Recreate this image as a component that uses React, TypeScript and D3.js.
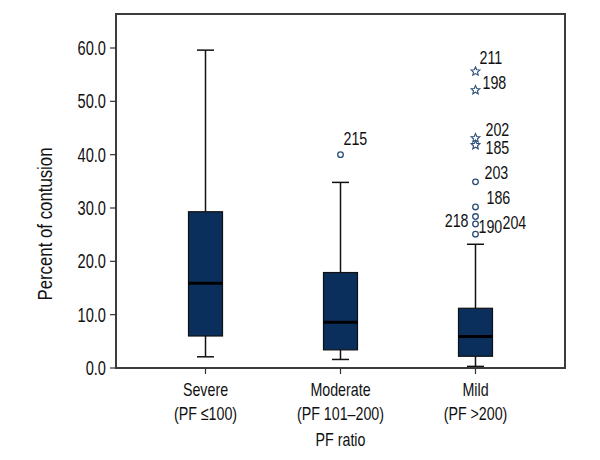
import React from "react";
import * as d3 from "d3";

const categories = ["Severe", "Moderate", "Mild"];
const categorySub = ["(PF \u2264100)", "(PF 101\u2013200)", "(PF >200)"];
const xAxisTitle = "PF ratio";
const yAxisTitle = "Percent of contusion";
const yTicks = [0, 10, 20, 30, 40, 50, 60];

const whiskerLow = [2.1, 1.6, 0.3];
const q1 = [6.0, 3.4, 2.2];
const median = [15.9, 8.6, 5.9];
const q3 = [29.3, 17.9, 11.2];
const whiskerHigh = [59.6, 34.8, 23.2];

// outliers
const outlierCat = [1, 2, 2, 2, 2, 2, 2, 2, 2, 2];
const outlierVal = [40.0, 55.6, 52.1, 43.1, 41.8, 34.9, 30.2, 28.4, 27.0, 25.1];
const outlierKind = ["o", "*", "*", "*", "*", "o", "o", "o", "o", "o"];
const outlierLabels = ["215", "211", "198", "202", "185", "203", "186", "218", "190", "204"];

// label placement offsets (px) relative to the point
const labelDx = [3, 4, 7, 10, 10, 9, 11, -7, 3, 27];
const labelDy = [-10, -7, -1, -2, 9, -3, -3, 10, 9, -5];
const labelAnchor = ["start", "start", "start", "start", "start", "start", "start", "end", "start", "start"];

const W = 600, H = 460;
const left = 116, right = 565, top = 14, bottom = 368;
const FONT = "'Liberation Sans', Arial, sans-serif";
const SX = 0.75;
const BOX_FILL = "#0a2f5c";
const PT_COLOR = "#2a4d78";

function starPath(cx: number, cy: number, R: number, r: number) {
  const pts: string[] = [];
  for (let i = 0; i < 10; i++) {
    const a = -Math.PI / 2 + (i * Math.PI) / 5;
    const rad = i % 2 === 0 ? R : r;
    pts.push(`${(cx + rad * Math.cos(a)).toFixed(2)},${(cy + rad * Math.sin(a)).toFixed(2)}`);
  }
  return "M" + pts.join("L") + "Z";
}

function T(props: { x: number; y: number; size: number; anchor?: string; rotate?: number; dy?: string; sx?: number; children: any }) {
  const { x, y, size, anchor = "start", rotate = 0, dy, sx = SX, children } = props;
  return (
    <text
      transform={`translate(${x},${y}) rotate(${rotate}) scale(${sx},1)`}
      textAnchor={anchor as any}
      fontSize={size}
      dy={dy}
      fill="#111"
      fontFamily={FONT}
    >
      {children}
    </text>
  );
}

export default function App() {
  const y = d3.scaleLinear().domain([0, 60]).range([bottom, 48]);
  const x = d3.scalePoint<string>().domain(categories).range([left, right]).padding(0.663);
  const boxW = 34;
  const capW = 17;

  return (
    <svg width={W} height={H} style={{ position: "absolute", left: 0, top: 0, background: "#fff" }}>
      {categories.map((c, i) => {
        const cx = x(c)!;
        return (
          <g key={c}>
            <line x1={cx} x2={cx} y1={y(whiskerHigh[i])} y2={y(q3[i])} stroke="#111" strokeWidth={1.5} />
            <line x1={cx} x2={cx} y1={y(q1[i])} y2={y(whiskerLow[i])} stroke="#111" strokeWidth={1.5} />
            <line x1={cx - capW / 2} x2={cx + capW / 2} y1={y(whiskerHigh[i])} y2={y(whiskerHigh[i])} stroke="#111" strokeWidth={1.5} />
            <line x1={cx - capW / 2} x2={cx + capW / 2} y1={y(whiskerLow[i])} y2={y(whiskerLow[i])} stroke="#111" strokeWidth={1.5} />
            <rect x={cx - boxW / 2} y={y(q3[i])} width={boxW} height={y(q1[i]) - y(q3[i])} fill={BOX_FILL} stroke="#111" strokeWidth={1.2} />
            <line x1={cx - boxW / 2} x2={cx + boxW / 2} y1={y(median[i])} y2={y(median[i])} stroke="#000" strokeWidth={3} />
          </g>
        );
      })}
      {outlierVal.map((v, i) => {
        const cx = x(categories[outlierCat[i]])!;
        const cy = y(v);
        return (
          <g key={i}>
            {outlierKind[i] === "o" ? (
              <circle cx={cx} cy={cy} r={2.8} fill="#fff" stroke={PT_COLOR} strokeWidth={1.3} />
            ) : (
              <path d={starPath(cx, cy, 4.6, 2.1)} fill="#fff" stroke={PT_COLOR} strokeWidth={1.1} />
            )}
            <T x={cx + labelDx[i]} y={cy + labelDy[i]} size={19} anchor={labelAnchor[i]}>
              {outlierLabels[i]}
            </T>
          </g>
        );
      })}
      <rect x={left} y={top} width={right - left} height={bottom - top} fill="none" stroke="#3c3c3c" strokeWidth={2} />
      {yTicks.map((t) => (
        <g key={t}>
          <line x1={left - 6} x2={left} y1={y(t)} y2={y(t)} stroke="#333" strokeWidth={1.2} />
          <T x={left - 10} y={y(t)} dy="0.36em" anchor="end" size={19.5}>
            {d3.format(".1f")(t)}
          </T>
        </g>
      ))}
      {categories.map((c, i) => (
        <g key={c}>
          <line x1={x(c)!} x2={x(c)!} y1={bottom} y2={bottom + 6} stroke="#333" strokeWidth={1.2} />
          <T x={x(c)!} y={396} anchor="middle" size={19}>{c}</T>
          <T x={x(c)!} y={420} anchor="middle" size={19}>{categorySub[i]}</T>
        </g>
      ))}
      <T x={x(categories[1])!} y={446} anchor="middle" size={19}>{xAxisTitle}</T>
      <T x={51.5} y={224} anchor="middle" rotate={-90} size={21} sx={0.8}>{yAxisTitle}</T>
    </svg>
  );
}
